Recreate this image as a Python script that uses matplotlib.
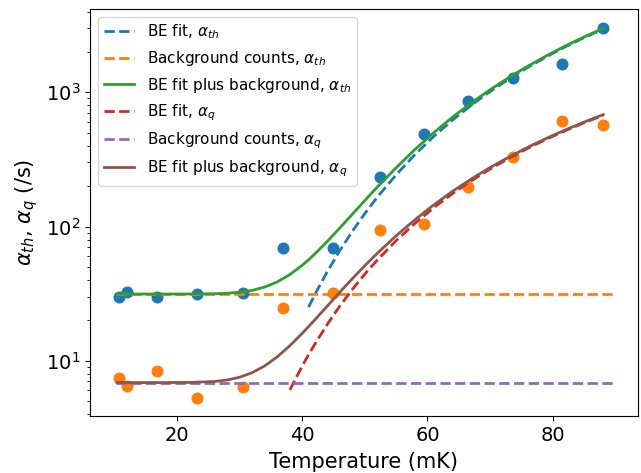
import numpy as np
import matplotlib
matplotlib.use('Agg')
import matplotlib.pyplot as plt

# measured rates
temp = [10.75, 11.93, 16.72, 23.17, 30.47, 36.86, 44.9, 52.42, 59.4, 66.53, 73.73, 81.46, 88.1]
alpha_th = [29.7, 32.7, 29.6, 31.4, 31.8, 69.5, 69.5, 233, 487, 861, 1271, 1618, 2999]
alpha_q = [7.39, 6.48, 8.43, 5.30, 6.37, 24.8, 32.1, 94.2, 103.8, 196, 331, 611, 570]

# fitted curves
fit_temp = [10.4, 14, 18, 22, 26, 28, 30, 32, 34, 36, 38, 40, 41, 42, 44, 46, 48, 50,
            52, 55, 58, 61, 64, 67, 70, 73, 76, 79, 82, 85, 88.1]
be_th = [0.0, 0.0, 0.0003, 0.011, 0.145, 0.40, 0.95, 2.04, 4.0, 7.27, 12.4, 20.1, 25.1,
         31.1, 46.2, 66.2, 92.3, 125, 166, 243, 344, 469, 621, 802, 1013, 1256, 1531,
         1838, 2181, 2551, 2969]
be_q = [0.0, 0.0, 0.0006, 0.015, 0.13, 0.31, 0.66, 1.28, 2.28, 3.82, 6.06, 9.16, 11.1,
        13.3, 18.7, 25.6, 34.0, 44.3, 56.4, 78.5, 105.5, 138, 176, 219, 268, 322, 382,
        447, 517, 592, 675]

bg_th = 31.4
bg_q = 6.87
bg_temp = [10.2, 89.6]

fit_temp = np.array(fit_temp)
be_th = np.array(be_th)
be_q = np.array(be_q)
th_mask = fit_temp >= 41
q_mask = fit_temp >= 38

fig = plt.figure(figsize=(6.41, 4.73), dpi=100)
ax = fig.add_axes([0.1404, 0.1205, 0.8544, 0.8605])

ax.scatter(temp, alpha_th, color='C0', s=58)
ax.scatter(temp, alpha_q, color='C1', s=58)

lw = 2
ax.plot(fit_temp[th_mask], be_th[th_mask], '--', lw=lw, color='C0', label=r'BE fit, $\alpha_{th}$')
ax.plot(bg_temp, [bg_th, bg_th], '--', lw=lw, color='C1', label=r'Background counts, $\alpha_{th}$')
ax.plot(fit_temp, be_th + bg_th, '-', lw=lw, color='C2', label=r'BE fit plus background, $\alpha_{th}$')
ax.plot(fit_temp[q_mask], be_q[q_mask], '--', lw=lw, color='C3', label=r'BE fit, $\alpha_q$')
ax.plot(bg_temp, [bg_q, bg_q], '--', lw=lw, color='C4', label=r'Background counts, $\alpha_q$')
ax.plot(fit_temp, be_q + bg_q, '-', lw=lw, color='C5', label=r'BE fit plus background, $\alpha_q$')

ax.set_yscale('log')
ax.set_xlim(6.06, 93.6)
ax.set_ylim(3.87, 4180)
ax.set_xticks([20, 40, 60, 80])
ax.tick_params(labelsize=14)
ax.set_xlabel('Temperature (mK)', fontsize=15, labelpad=5)
ax.set_ylabel(r'$\alpha_{th}$, $\alpha_q$ (/s)', fontsize=15)
ax.legend(loc='upper left', fontsize=11)

fig.savefig('out.png', dpi=100)
